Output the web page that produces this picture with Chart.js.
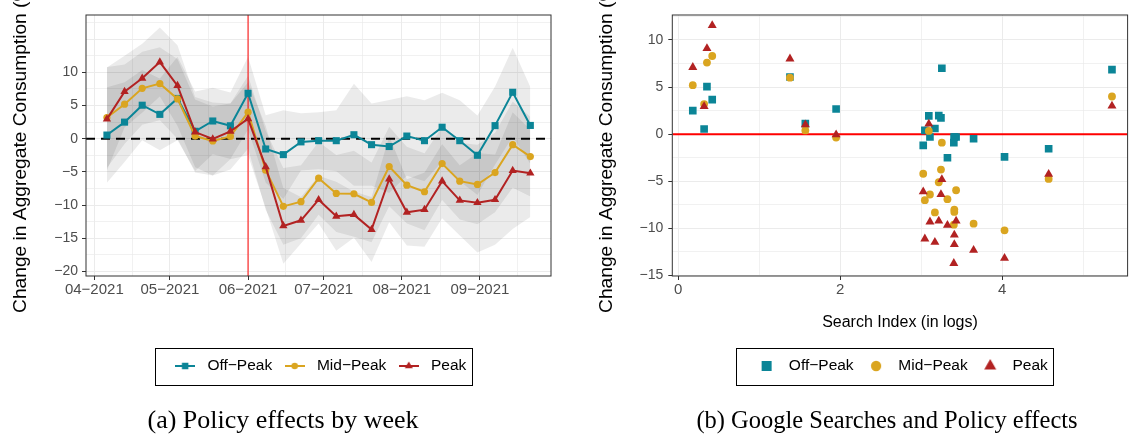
<!DOCTYPE html>
<html>
<head>
<meta charset="utf-8">
<script src="https://cdn.jsdelivr.net/npm/chart.js@4.4.1/dist/chart.umd.min.js"></script>
<style>
  html, body { margin: 0; padding: 0; background: #fff; }
  body { width: 1133px; height: 441px; position: relative; overflow: hidden; }
  #left { position: absolute; left: 0; top: 0; width: 560px; height: 441px; }
  #right { position: absolute; left: 585px; top: 0; width: 548px; height: 441px; }
  .cap { position: absolute; top: 406px; font-family: "Liberation Serif", "Times New Roman", serif;
         line-height: 28px; color: #000; white-space: nowrap; transform: translateX(-50%); }
</style>
</head>
<body>
<div id="left"><canvas id="weekChart"></canvas></div>
<div id="right"><canvas id="searchChart"></canvas></div>
<div class="cap" style="left:283px;font-size:26px">(a) Policy effects by week</div>
<div class="cap" style="left:887px;font-size:24.5px">(b) Google Searches and Policy effects</div>
<script>
// weekly policy effects (week starting dates)
const weeks = ['2021-04-06', '2021-04-13', '2021-04-20', '2021-04-27', '2021-05-04', '2021-05-11',
  '2021-05-18', '2021-05-25', '2021-06-01', '2021-06-08', '2021-06-15', '2021-06-22', '2021-06-29',
  '2021-07-06', '2021-07-13', '2021-07-20', '2021-07-27', '2021-08-03', '2021-08-10', '2021-08-17',
  '2021-08-24', '2021-08-31', '2021-09-07', '2021-09-14', '2021-09-21'];

const offPeak = [0.55, 2.5, 5.05, 3.67, 6.07, 1.12, 2.67, 1.95, 6.85, -1.55, -2.4, -0.48, -0.3,
  -0.3, 0.6, -0.9, -1.18, 0.4, -0.3, 1.73, -0.3, -2.5, 1.97, 7.0, 2.0];
const midPeak = [3.2, 5.2, 7.6, 8.3, 6.0, 0.4, -0.35, 0.35, 4.0, -4.75, -10.2, -9.5, -5.95,
  -8.25, -8.3, -9.6, -4.2, -7.0, -8.0, -3.75, -6.4, -6.9, -5.1, -0.9, -2.7];
const peak = [2.95, 7.1, 9.1, 11.55, 8.0, 1.0, -0.05, 1.1, 3.0, -4.25, -13.15, -12.3, -9.2,
  -11.7, -11.45, -13.7, -6.1, -11.1, -10.7, -6.4, -9.3, -9.65, -9.2, -4.8, -5.2];

// half width of the confidence band
const offPeakCI = [7.2, 6.0, 5.3, 5.4, 6.3, 6.0, 5.0, 5.0, 5.5, 5.1, 6.7, 4.3, 4.3, 4.6, 7.7,
  6.2, 7.0, 6.0, 6.1, 5.2, 6.1, 6.0, 5.9, 6.7, 5.8];
const midPeakCI = [7.6, 6.0, 5.5, 5.5, 6.0, 5.5, 5.2, 5.0, 5.5, 6.0, 5.8, 5.5, 5.5, 5.8, 6.5,
  6.0, 6.0, 5.8, 5.8, 5.5, 5.8, 6.0, 6.0, 6.5, 6.0];
const peakCI = [7.8, 5.4, 5.2, 5.2, 6.1, 5.3, 5.5, 4.2, 5.5, 6.2, 5.7, 3.5, 3.6, 5.2, 3.5,
  4.9, 6.5, 5.0, 5.6, 5.6, 5.3, 7.5, 6.8, 8.8, 6.6];

// google search index (logs) for the same weeks, last week has none
const searchIndex = [0.32, 0.18, 0.355, 0.42, 1.38, 1.57, 1.95, 3.095, 5.357, 4.575, 4.03, 3.648,
  3.432, 3.41, 3.17, 3.404, 3.026, 3.046, 3.41, 3.245, 3.109, 3.325, 3.218, 3.256, null];

const policyDate = '2021-06-01';
const monthTicks = ['2021-04-01', '2021-05-01', '2021-06-01', '2021-07-01', '2021-08-01', '2021-09-01'];
const monthLabels = ['04−2021', '05−2021', '06−2021', '07−2021', '08−2021', '09−2021'];
const weekYTicks = [-20, -15, -10, -5, 0, 5, 10];
const searchYTicks = [-15, -10, -5, 0, 5, 10];
const searchXTicks = [0, 2, 4];

const TEAL = '#0B8597', GOLD = '#DAA520', RED = '#B22222';
const GRID = '#EBEBEB', AXIS_TXT = '#4D4D4D';

Chart.defaults.font.family = '"Liberation Sans", Arial, Helvetica, sans-serif';
Chart.defaults.color = AXIS_TXT;

const base = Date.UTC(2021, 3, 1);
function dayOf(d) {
  return (Date.UTC(+d.slice(0, 4), +d.slice(5, 7) - 1, +d.slice(8, 10)) - base) / 86400000;
}
function minus(v) { return String(v).replace('-', '\u2212'); }
function steps(start, step, max) {
  const out = [];
  for (let t = start; t <= max + 1e-9; t += step) out.push(Math.round(t * 1000) / 1000);
  return out;
}

function makeIcon(style, color, size, withLine) {
  const c = document.createElement('canvas');
  c.width = withLine ? 20 : 14;
  c.height = 14;
  const g = c.getContext('2d');
  const cx = c.width / 2, cy = c.height / 2;
  g.fillStyle = color;
  g.strokeStyle = color;
  if (withLine) {
    g.lineWidth = 2;
    g.beginPath(); g.moveTo(0, cy); g.lineTo(c.width, cy); g.stroke();
  }
  g.beginPath();
  if (style === 'rect') {
    g.rect(cx - size / 2, cy - size / 2, size, size);
  } else if (style === 'circle') {
    g.arc(cx, cy, size / 2, 0, Math.PI * 2);
  } else {
    const r = size / Math.sqrt(3);
    g.moveTo(cx, cy - r); g.lineTo(cx + size / 2, cy + r / 2); g.lineTo(cx - size / 2, cy + r / 2);
    g.closePath();
  }
  g.fill();
  return c;
}

// reference lines, panel border and legend frame
function drawRefs(chart, opts) {
  const {ctx, chartArea: a, scales} = chart;
  ctx.save();
  ctx.beginPath(); ctx.rect(a.left, a.top, a.width, a.height); ctx.clip();
  (opts.hlines || []).forEach(l => {
    const y = scales.y.getPixelForValue(l.value);
    ctx.strokeStyle = l.color; ctx.lineWidth = l.width; ctx.setLineDash(l.dash || []);
    ctx.beginPath(); ctx.moveTo(a.left, y); ctx.lineTo(a.right, y); ctx.stroke();
  });
  (opts.vlines || []).forEach(l => {
    const x = scales.x.getPixelForValue(l.value);
    ctx.strokeStyle = l.color; ctx.lineWidth = l.width; ctx.setLineDash(l.dash || []);
    ctx.beginPath(); ctx.moveTo(x, a.top); ctx.lineTo(x, a.bottom); ctx.stroke();
  });
  ctx.restore();
}
const panelPlugin = {
  id: 'panel',
  beforeDatasetDraw(chart, args, opts) {
    if (opts.refBefore && chart.data.datasets[args.index].label === opts.refBefore) drawRefs(chart, opts);
  },
  beforeDatasetsDraw(chart, args, opts) {
    if (!opts.refBefore) drawRefs(chart, opts);
  },
  afterDraw(chart) {
    const {ctx, chartArea: a} = chart;
    ctx.save();
    ctx.strokeStyle = '#333333'; ctx.lineWidth = 1;
    ctx.strokeRect(a.left, a.top, a.width, a.height);
    const hb = chart.legend && chart.legend.legendHitBoxes;
    if (hb && hb.length) {
      const first = hb[0], last = hb[hb.length - 1];
      const cy = first.top + first.height / 2;
      const x0 = first.left - 16, x1 = last.left + last.width + 5;
      ctx.strokeStyle = '#000'; ctx.lineWidth = 1;
      ctx.strokeRect(Math.round(x0) + 0.5, Math.round(cy - 18.5) + 0.5, Math.round(x1 - x0), 37);
    }
    ctx.restore();
  }
};
Chart.register(panelPlugin);

const series = [
  {label: 'Off−Peak', values: offPeak, ci: offPeakCI, color: TEAL, style: 'rect', r: 5.0, rs: 5.4, order: 2},
  {label: 'Mid−Peak', values: midPeak, ci: midPeakCI, color: GOLD, style: 'circle', r: 3.6, rs: 3.9, order: 1},
  {label: 'Peak', values: peak, ci: peakCI, color: RED, style: 'triangle', r: 4.8, rs: 5.2, order: 0}
];

const weekX = weeks.map(dayOf);
const majorDays = monthTicks.map(dayOf);
const minorDays = majorDays.map((d, i) => i < majorDays.length - 1 ? (d + majorDays[i + 1]) / 2 : d + 15);
const monthLabelOf = new Map(majorDays.map((d, i) => [d, monthLabels[i]]));

const tickFont = {size: 15};
const yTickFont = {size: 14};
const yTitle = {display: true, text: 'Change in Aggregate Consumption (%)', color: '#000',
  font: {size: 19.2}, padding: {top: 9.6, bottom: 0}};

function legendOpts(icons) {
  return {
    position: 'bottom', fullSize: false,
    onClick: null,
    labels: {
      usePointStyle: true, pointStyleWidth: 29, padding: 8, color: '#000', font: {size: 15.5},
      generateLabels: () => series.map((s, i) => ({
        text: s.label, pointStyle: icons[i], fillStyle: s.color, strokeStyle: s.color,
        lineWidth: 0, hidden: false, datasetIndex: i, fontColor: '#000'
      }))
    }
  };
}

// ---- (a) policy effects by week ----
const weekSets = series.map(s => ({
  type: 'line', label: s.label,
  data: weekX.map((x, i) => ({x, y: s.values[i]})),
  borderColor: s.color, backgroundColor: s.color, borderWidth: 2,
  pointStyle: s.style, pointRadius: s.r, pointBorderWidth: 0, pointHoverRadius: s.r,
  fill: false, order: s.order
}));
series.forEach(s => {
  weekSets.push({
    type: 'line', label: s.label + ' lo', band: true,
    data: weekX.map((x, i) => ({x, y: s.values[i] - s.ci[i]})),
    borderColor: 'rgba(0,0,0,0)', pointRadius: 0, fill: false, order: 5
  });
  weekSets.push({
    type: 'line', label: s.label + ' hi', band: true,
    data: weekX.map((x, i) => ({x, y: s.values[i] + s.ci[i]})),
    borderColor: 'rgba(0,0,0,0)', backgroundColor: 'rgba(0,0,0,0.078)', pointRadius: 0,
    fill: '-1', order: 5
  });
});

new Chart(document.getElementById('weekChart'), {
  type: 'line',
  data: {datasets: weekSets},
  options: {
    responsive: true, maintainAspectRatio: false, animation: false,
    layout: {padding: {top: 15, right: 9, left: 0, bottom: 57.25}},
    plugins: {
      legend: legendOpts(series.map(s => makeIcon(s.style, s.color, s.style === 'triangle' ? 8 : 6.5, true))),
      tooltip: {enabled: false},
      panel: {
        refBefore: 'Off−Peak',
        hlines: [{value: 0, color: '#000', width: 2, dash: [9, 6]}],
        vlines: [{value: dayOf(policyDate), color: '#FF0000', width: 1}]
      }
    },
    scales: {
      x: {
        type: 'linear', min: -3.3, max: 181.2,
        afterBuildTicks: s => { s.ticks = majorDays.concat(minorDays).sort((a, b) => a - b).map(v => ({value: v})); },
        afterFit: s => { s.height = 74.25; },
        ticks: {autoSkip: false, maxRotation: 0, padding: 1, font: tickFont, color: AXIS_TXT,
          callback: v => monthLabelOf.get(v) || ''},
        grid: {color: GRID, lineWidth: c => monthLabelOf.has(c.tick && c.tick.value) ? 1 : 0.7,
          tickLength: 4, tickWidth: 1,
          tickColor: c => monthLabelOf.has(c.tick && c.tick.value) ? '#333' : 'rgba(0,0,0,0)'},
        border: {display: false}
      },
      y: {
        min: -20.7, max: 18.65,
        afterBuildTicks: s => { s.ticks = steps(-20, 2.5, 18.65).map(v => ({value: v})); },
        afterFit: s => { s.width = 86; },
        ticks: {autoSkip: false, padding: 4, font: yTickFont, color: AXIS_TXT,
          callback: v => weekYTicks.includes(v) ? minus(v) : ''},
        grid: {color: GRID, lineWidth: c => (c.tick && c.tick.value % 5 === 0) ? 1 : 0.7,
          tickLength: 4, tickWidth: 1,
          tickColor: c => weekYTicks.includes(c.tick && c.tick.value) ? '#333' : 'rgba(0,0,0,0)'},
        border: {display: false},
        title: yTitle
      }
    }
  }
});

// ---- (b) google searches and policy effects ----
const searchSets = series.map(s => ({
  type: 'scatter', label: s.label,
  data: searchIndex.map((x, i) => ({x, y: s.values[i]})).filter(p => p.x !== null),
  backgroundColor: s.color, borderColor: s.color,
  pointStyle: s.style, pointRadius: s.rs, pointBorderWidth: 0, pointHoverRadius: s.rs,
  order: s.order
}));

new Chart(document.getElementById('searchChart'), {
  type: 'scatter',
  data: {datasets: searchSets},
  options: {
    responsive: true, maintainAspectRatio: false, animation: false,
    layout: {padding: {top: 15, right: 1, left: 0, bottom: 57.25}},
    plugins: {
      legend: legendOpts([makeIcon('rect', TEAL, 10, false), makeIcon('circle', GOLD, 10.3, false),
        makeIcon('triangle', RED, 12, false)]),
      tooltip: {enabled: false},
      panel: {
        hlines: [{value: 0, color: '#FF0000', width: 2}]
      }
    },
    scales: {
      x: {
        type: 'linear', min: -0.073, max: 5.55,
        afterBuildTicks: s => { s.ticks = steps(0, 1, 5.55).map(v => ({value: v})); },
        afterFit: s => { s.height = 74.25; },
        ticks: {autoSkip: false, maxRotation: 0, padding: 1, font: tickFont, color: AXIS_TXT,
          callback: v => searchXTicks.includes(v) ? String(v) : ''},
        grid: {color: GRID, lineWidth: c => searchXTicks.includes(c.tick && c.tick.value) ? 1 : 0.7,
          tickLength: 4, tickWidth: 1,
          tickColor: c => searchXTicks.includes(c.tick && c.tick.value) ? '#333' : 'rgba(0,0,0,0)'},
        border: {display: false},
        title: {display: true, text: 'Search Index (in logs)', color: '#000', font: {size: 16},
          padding: {top: 0, bottom: 17.65}}
      },
      y: {
        min: -15.05, max: 12.65,
        afterBuildTicks: s => { s.ticks = steps(-15, 2.5, 12.65).map(v => ({value: v})); },
        afterFit: s => { s.width = 87.3; },
        ticks: {autoSkip: false, padding: 5, font: yTickFont, color: AXIS_TXT,
          callback: v => searchYTicks.includes(v) ? minus(v) : ''},
        grid: {color: GRID, lineWidth: c => searchYTicks.includes(c.tick && c.tick.value) ? 1 : 0.7,
          tickLength: 4, tickWidth: 1,
          tickColor: c => searchYTicks.includes(c.tick && c.tick.value) ? '#333' : 'rgba(0,0,0,0)'},
        border: {display: false},
        title: Object.assign({}, yTitle, {padding: {top: 10, bottom: 0}})
      }
    }
  }
});
</script>
</body>
</html>
